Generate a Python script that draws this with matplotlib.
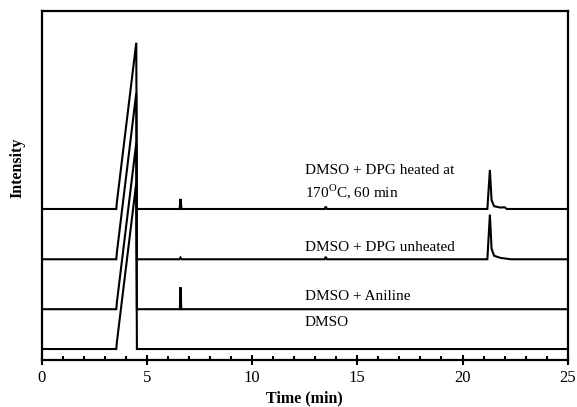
import matplotlib
matplotlib.use("Agg")
import matplotlib.pyplot as plt
from matplotlib.ticker import MultipleLocator

plt.rcParams['font.family'] = ['Liberation Serif', 'DejaVu Serif']
plt.rcParams['mathtext.fontset'] = 'custom'
plt.rcParams['mathtext.rm'] = 'Liberation Serif'

# chromatogram traces (time in min, signal in arbitrary units above each baseline)
t_dmso = [0, 3.55, 3.58, 4.5, 4.53, 25]
y_dmso = [0, 0, 2.0, 47.6, 0, 0]

t_aniline = [0, 3.55, 3.58, 4.5, 4.53, 6.57, 6.6, 6.64, 25]
y_aniline = [0, 0, 2.0, 47.6, 0, 0, 6.3, 0, 0]

t_unheated = [0, 3.55, 3.58, 4.5, 4.53, 6.55, 6.6, 6.66, 13.45, 13.5, 13.56,
              21.18, 21.3, 21.38, 21.5, 21.8, 22.3, 25]
y_unheated = [0, 0, 2.0, 47.6, 0, 0, 0.5, 0, 0, 0.7, 0,
              0, 12.8, 3.0, 1.0, 0.4, 0, 0]

t_heated = [0, 3.55, 3.58, 4.5, 4.53, 6.56, 6.6, 6.65, 13.45, 13.5, 13.56,
            21.18, 21.3, 21.38, 21.5, 21.8, 22.0, 22.1, 25]
y_heated = [0, 0, 2.0, 47.6, 0, 0, 2.9, 0, 0, 0.7, 0,
            0, 11.2, 2.5, 0.8, 0.4, 0.5, 0, 0]

traces = [t_dmso, t_aniline, t_unheated, t_heated]
signals = [y_dmso, y_aniline, y_unheated, y_heated]
offsets = [3.2, 14.6, 28.9, 43.3]

fig = plt.figure(figsize=(5.77, 4.07), dpi=100)
ax = fig.add_axes([0.072, 0.115, 0.912, 0.858])

for t, y, off in zip(traces, signals, offsets):
    ax.plot(t, [v + off for v in y], color='black', lw=1.5, solid_joinstyle='miter')

ax.text(12.5, 54.4, 'DMSO + DPG heated at', fontsize=11, va='center')
ax.text(12.5, 48.4, r'170$^{\mathrm{O}}$C, 60 min', fontsize=11, va='center')
ax.text(12.5, 32.4, 'DMSO + DPG unheated', fontsize=11, va='center')
ax.text(12.5, 18.1, 'DMSO + Aniline', fontsize=11, va='center')
ax.text(12.5, 10.9, 'DMSO', fontsize=11, va='center')

ax.set_xlim(0, 25)
ax.set_ylim(0, 100)
ax.xaxis.set_major_locator(MultipleLocator(5))
ax.xaxis.set_minor_locator(MultipleLocator(1))
ax.tick_params(axis='x', which='major', direction='inout', length=7, width=1.5, labelsize=12)
ax.tick_params(axis='x', which='minor', direction='in', length=3, width=1.5)
ax.set_yticks([])
for s in ax.spines.values():
    s.set_linewidth(1.6)

ax.set_xlabel('Time (min)', fontsize=11.5, fontweight='bold', labelpad=3)
ax.set_ylabel('Intensity', fontsize=11.5, fontweight='bold')
ax.yaxis.set_label_coords(-0.03, 0.55)

fig.savefig('out.png', dpi=100)
